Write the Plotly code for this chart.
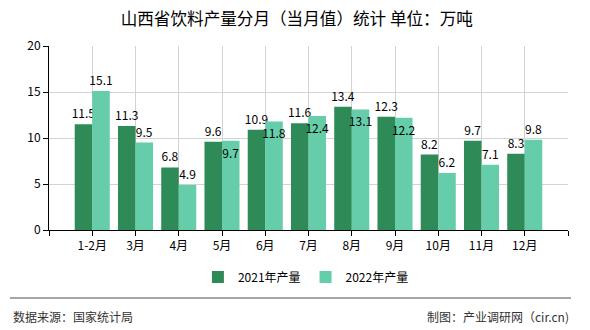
import plotly.graph_objects as go

months = ["1-2月", "3月", "4月", "5月", "6月", "7月", "8月", "9月", "10月", "11月", "12月"]
prod_2021 = [11.5, 11.3, 6.8, 9.6, 10.9, 11.6, 13.4, 12.3, 8.2, 9.7, 8.3]
prod_2022 = [15.1, 9.5, 4.9, 9.7, 11.8, 12.4, 13.1, 12.2, 6.2, 7.1, 9.8]
series_names = ["2021年产量", "2022年产量"]
colors = ["#2e8b57", "#66cdaa"]
y_ticks = [0, 5, 10, 15, 20]

FONT = "Noto Sans CJK SC"
pos = list(range(len(months)))

# labels of the second series drop to the bar top when they would collide
# with the first series' labels (as in the reference)
pos_2022 = ["inside" if abs(b - a) < 1.3 else "outside"
            for a, b in zip(prod_2021, prod_2022)]
text_positions = [["outside"] * len(prod_2021), pos_2022]

fig = go.Figure()
for name, vals, c, tp in zip(series_names, [prod_2021, prod_2022], colors, text_positions):
    fig.add_trace(go.Bar(
        x=pos, y=vals, name=name, marker=dict(color=c, line=dict(width=0)),
        text=[f"{v:.1f}" for v in vals], textposition=tp,
        insidetextanchor="end", textangle=0,
        constraintext="none", cliponaxis=False,
        textfont=dict(family=FONT, size=12, color="#000000"),
        insidetextfont=dict(family=FONT, size=12, color="#000000"),
        outsidetextfont=dict(family=FONT, size=12, color="#000000"),
    ))

L, R, T, B = 49, 22, 46, 100
W, H = 590, 330
pw, ph = W - L - R, H - T - B

def px_x(x):
    return (x - L) / pw

def px_y(y):
    return (H - B - y) / ph

fig.update_layout(
    width=W, height=H,
    margin=dict(l=L, r=R, t=T, b=B),
    paper_bgcolor="white", plot_bgcolor="white",
    barmode="group", bargap=0.19, bargroupgap=0,
    font=dict(family=FONT, size=12, color="#000000"),
    title=dict(text="山西省饮料产量分月（当月值）统计 单位：万吨",
               x=0.503, xanchor="center", y=1 - 19 / H, yanchor="middle",
               font=dict(family=FONT, size=16.6, color="#000000")),
    legend=dict(orientation="h", x=0.495, xanchor="center",
                y=px_y(277), yanchor="middle",
                font=dict(family=FONT, size=12, color="#000000"),
                itemwidth=30, traceorder="normal"),
    xaxis=dict(
        range=[-1, len(months)],
        tickmode="array",
        tickvals=list(range(-1, len(months) + 1)),
        ticktext=[""] + months + [""],
        showgrid=True, gridcolor="#d3d3d3", gridwidth=1,
        showline=True, linecolor="#000000", linewidth=1,
        ticks="outside", ticklen=5, tickcolor="#000000",
        tickfont=dict(family=FONT, size=12, color="#000000"),
        zeroline=False, fixedrange=True,
    ),
    yaxis=dict(
        range=[0, 20], tickmode="array", tickvals=y_ticks,
        showgrid=True, gridcolor="#d3d3d3", gridwidth=1,
        showline=True, linecolor="#000000", linewidth=1,
        ticks="outside", ticklen=5, tickcolor="#000000",
        tickfont=dict(family=FONT, size=12, color="#000000"),
        zeroline=False, fixedrange=True,
    ),
    shapes=[dict(type="line", xref="paper", yref="paper",
                 x0=px_x(10), x1=px_x(571), y0=px_y(298), y1=px_y(298),
                 line=dict(color="#888888", width=1.5))],
    annotations=[
        dict(text="数据来源：国家统计局", xref="paper", yref="paper",
             x=px_x(11), y=px_y(316), xanchor="left", yanchor="middle",
             showarrow=False, font=dict(family=FONT, size=12, color="#333333")),
        dict(text="制图：产业调研网（cir.cn)", xref="paper", yref="paper",
             x=px_x(571), y=px_y(316), xanchor="right", yanchor="middle",
             showarrow=False, font=dict(family=FONT, size=12, color="#333333")),
    ],
)

fig.write_html("out.html", config={"displayModeBar": False})
